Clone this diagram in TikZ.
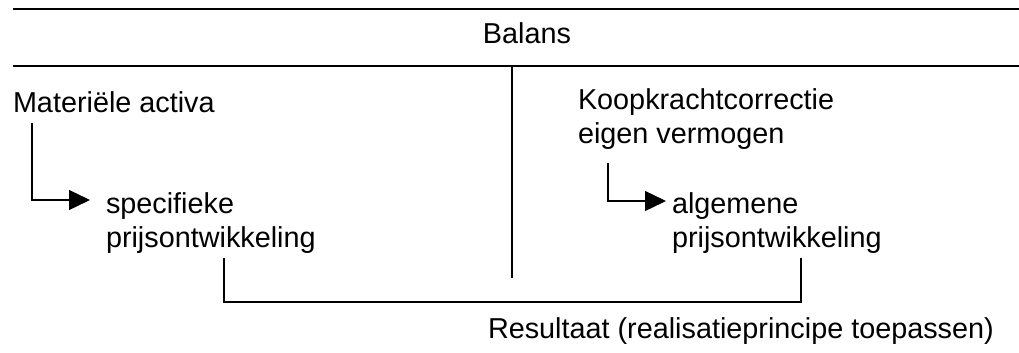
\documentclass[tikz,border=0pt]{standalone}
\usepackage{fontspec}
\setmainfont{Liberation Sans}
\usetikzlibrary{arrows.meta}
\begin{document}
\begin{tikzpicture}[x=1pt,y=-1pt,
  lbl/.style={inner sep=0pt,outer sep=0pt,font=\fontsize{28.8}{34}\selectfont},
  rule/.style={line width=1.8pt},
  conn/.style={line width=1.3pt},
  arr/.style={conn,-{Triangle[length=21pt,width=20pt]}}]
\useasboundingbox (0,0) rectangle (1019,353);
% rules
\coordinate (r1a) at (13,9);  \coordinate (r1b) at (1019,9);
\coordinate (r2a) at (13,66); \coordinate (r2b) at (1019,66);
\draw[rule] (r1a) -- (r1b);
\draw[rule] (r2a) -- (r2b);
% divider
\coordinate (d1) at (512,66); \coordinate (d2) at (512,278);
\draw[conn] (d1) -- (d2);
% texts
\node[lbl,anchor=base] (balans) at (527,44) {Balans};
\node[lbl,anchor=base west] (mat) at (13,112) {Materiële activa};
\node[lbl,anchor=base west] (spec1) at (106,213) {specifieke};
\node[lbl,anchor=base west] (spec2) at (106,247) {prijsontwikkeling};
\node[lbl,anchor=base west] (koop1) at (578,109) {Koopkrachtcorrectie};
\node[lbl,anchor=base west] (koop2) at (578,143) {eigen vermogen};
\node[lbl,anchor=base west] (alg1) at (672,213) {algemene};
\node[lbl,anchor=base west] (alg2) at (672,247) {prijsontwikkeling};
\node[lbl,anchor=base west] (res) at (488,338) {Resultaat (realisatieprincipe toepassen)};
% arrows
\coordinate (a1s) at (32,123); \coordinate (a1e) at (90,200);
\draw[arr] (a1s) |- (a1e);
\coordinate (a2s) at (608,163); \coordinate (a2e) at (666,201);
\draw[arr] (a2s) |- (a2e);
% bracket
\coordinate (b1) at (224,258); \coordinate (b2) at (801,258);
\draw[conn] (b1) -- (224,302) -- (801,302) -- (b2);
\end{tikzpicture}
\end{document}
